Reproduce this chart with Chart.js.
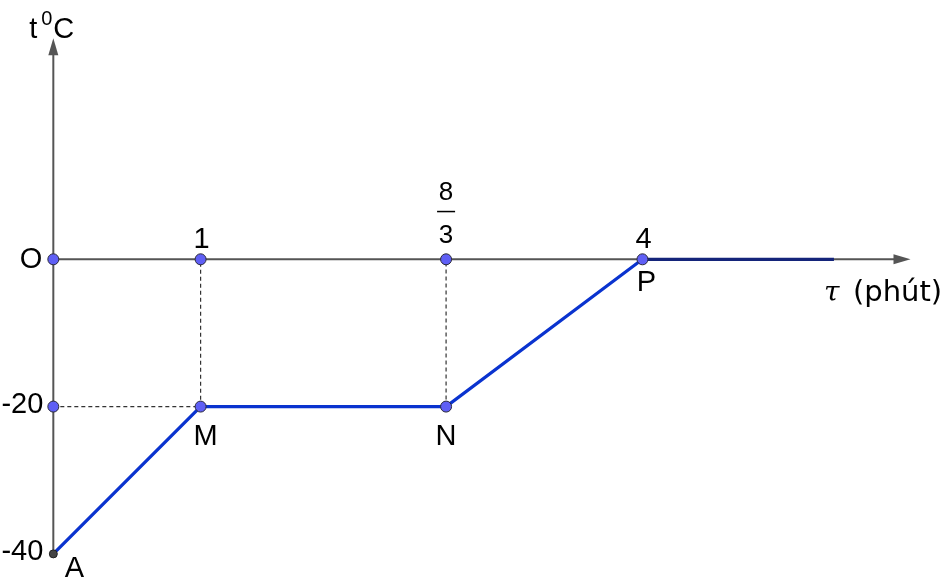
<!DOCTYPE html>
<html>
<head>
<meta charset="utf-8">
<script src="https://cdn.jsdelivr.net/npm/chart.js@4"></script>
<style>
  html, body { margin: 0; padding: 0; background: #fff; }
  canvas { display: block; }
</style>
</head>
<body>
<canvas id="chart" width="950" height="577"></canvas>
<script>
// heating curve: time (minutes) vs temperature
const times = [0, 1, 8 / 3, 4, 5.3];
const temps = [-40, -20, -20, 0, 0];
const pointNames = ['A', 'M', 'N', 'P'];

// marked points on the axes
const axisPointsX = [0, 1, 8 / 3, 4, 0, 1, 8 / 3];
const axisPointsY = [0, 0, 0, 0, -20, -20, -20];

// tick labels
const xTickValues = [1, 4];
const xTickLabels = ['1', '4'];
const fracTick = 8 / 3;
const fracLabel = ['8', '3'];
const yTickValues = [-20, -40];
const yTickLabels = ['-20', '-40'];

// axis extents
const xAxisEnd = 5.82;
const yAxisEnd = 30;
const yAxisStart = -40;

const BLUE = '#0a33cf';
const AXIS = '#555555';
const FONT = '"Liberation Sans", Arial, sans-serif';

const curve = times.map((t, i) => ({ x: t, y: temps[i] }));
const marked = axisPointsX.map((t, i) => ({ x: t, y: axisPointsY[i] }));

const guides = [
  { x: 0, y: temps[1] }, { x: times[1], y: temps[1] }, { x: times[1], y: 0 },
  { x: times[2], y: null },
  { x: times[2], y: temps[2] }, { x: times[2], y: 0 }
];

const arrows = {
  id: 'arrows',
  beforeDatasetsDraw(chart) {
    const { ctx, scales: { x, y } } = chart;
    const x0 = x.getPixelForValue(0), y0 = y.getPixelForValue(0);
    ctx.save();
    ctx.strokeStyle = AXIS;
    ctx.fillStyle = AXIS;
    ctx.lineWidth = 2;
    // x axis
    const xe = x.getPixelForValue(xAxisEnd);
    ctx.beginPath();
    ctx.moveTo(x0, y0);
    ctx.lineTo(xe - 10, y0);
    ctx.stroke();
    ctx.beginPath();
    ctx.moveTo(xe, y0);
    ctx.lineTo(xe - 17, y0 - 5);
    ctx.lineTo(xe - 17, y0 + 5);
    ctx.closePath();
    ctx.fill();
    // y axis
    const ye = y.getPixelForValue(yAxisEnd);
    ctx.beginPath();
    ctx.moveTo(x0, y.getPixelForValue(yAxisStart));
    ctx.lineTo(x0, ye + 10);
    ctx.stroke();
    ctx.beginPath();
    ctx.moveTo(x0, ye);
    ctx.lineTo(x0 - 5, ye + 17);
    ctx.lineTo(x0 + 5, ye + 17);
    ctx.closePath();
    ctx.fill();
    ctx.restore();
  }
};

const labels = {
  id: 'labels',
  afterDatasetsDraw(chart) {
    const { ctx, scales: { x, y } } = chart;
    const px = v => x.getPixelForValue(v);
    const py = v => y.getPixelForValue(v);
    ctx.save();
    ctx.fillStyle = '#000';
    ctx.font = `29px ${FONT}`;

    // origin
    ctx.textAlign = 'right';
    ctx.textBaseline = 'middle';
    ctx.fillText('O', px(0) - 11, py(0) + 1);

    // x ticks
    ctx.textAlign = 'center';
    ctx.textBaseline = 'alphabetic';
    xTickValues.forEach((v, i) => ctx.fillText(xTickLabels[i], px(v) + 1, py(0) - 11));

    // fraction 8/3
    ctx.font = `26px ${FONT}`;
    const fx = px(fracTick);
    ctx.fillText(fracLabel[0], fx, py(0) - 59);
    ctx.fillText(fracLabel[1], fx, py(0) - 16);
    ctx.fillRect(fx - 9, py(0) - 48.5, 18, 1.5);

    // y ticks
    ctx.font = `29px ${FONT}`;
    ctx.textAlign = 'right';
    ctx.textBaseline = 'middle';
    yTickValues.forEach((v, i) => ctx.fillText(yTickLabels[i], px(0) - 10, py(v) - 2));

    // point names
    ctx.textAlign = 'center';
    ctx.textBaseline = 'alphabetic';
    const offs = [[21, 23], [5, 38], [0, 38], [4, 32]];
    pointNames.forEach((n, i) => {
      ctx.fillText(n, px(times[i]) + offs[i][0], py(temps[i]) + offs[i][1]);
    });

    // axis titles
    const x0 = px(0);
    ctx.textAlign = 'left';
    ctx.fillText('t', x0 - 24, 38);
    ctx.font = `20px ${FONT}`;
    ctx.fillText('0', x0 - 12, 25);
    ctx.font = `29px ${FONT}`;
    ctx.fillText('C', x0 + 0, 38);

    ctx.font = `italic 28px "DejaVu Serif", serif`;
    ctx.fillText('τ', 824, py(0) + 42);
    ctx.font = `29px "DejaVu Sans", sans-serif`;
    ctx.fillText('(phút)', 853, py(0) + 42);
    ctx.restore();
  }
};

new Chart(document.getElementById('chart'), {
  type: 'scatter',
  data: {
    datasets: [
      {
        data: guides,
        order: 3,
        showLine: true,
        spanGaps: false,
        borderColor: '#333',
        borderWidth: 1.2,
        borderDash: [4, 3],
        pointRadius: 0
      },
      {
        data: curve,
        order: 2,
        showLine: true,
        borderColor: BLUE,
        borderWidth: 3.2,
        pointRadius: 0,
        segment: {
          borderColor: c => (c.p0.parsed.y === 0 && c.p1.parsed.y === 0 ? '#14247a' : BLUE)
        }
      },
      {
        data: marked,
        order: 1,
        pointRadius: 5.5,
        pointBackgroundColor: '#5f5ff5',
        pointBorderColor: '#2a2a3a',
        pointBorderWidth: 1
      },
      {
        data: [curve[0]],
        order: 0,
        pointRadius: 4,
        pointBackgroundColor: '#444',
        pointBorderColor: '#222',
        pointBorderWidth: 1
      }
    ]
  },
  options: {
    responsive: false,
    animation: false,
    layout: { padding: 0, autoPadding: false },
    plugins: { legend: { display: false }, tooltip: { enabled: false } },
    scales: {
      x: { type: 'linear', display: false, min: -0.362, max: 6.088 },
      y: { type: 'linear', display: false, min: -43.14, max: 35.21 }
    }
  },
  plugins: [arrows, labels]
});
</script>
</body>
</html>
